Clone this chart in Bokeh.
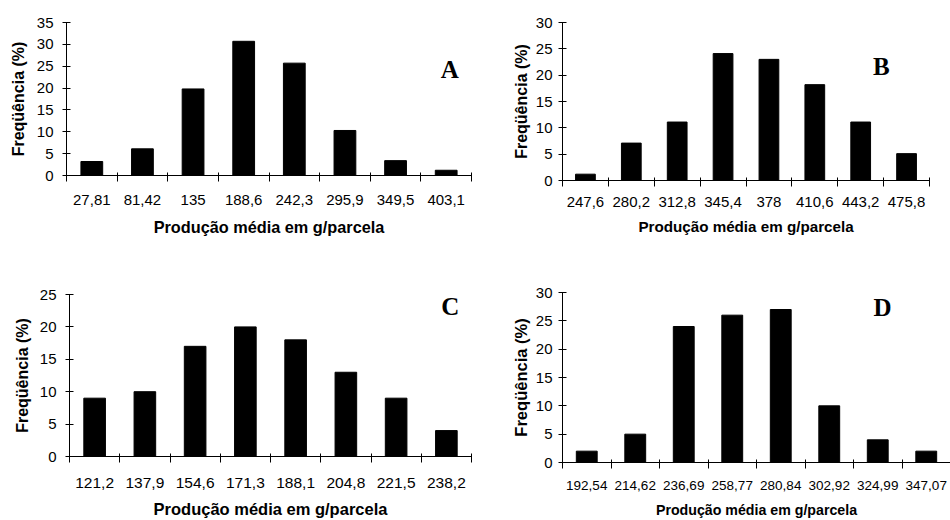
from bokeh.plotting import figure
from bokeh.models import Range1d, FixedTicker, Label
from bokeh.layouts import column, row
from bokeh.embed import file_html
from bokeh.resources import INLINE

# ---- data ----
cats_A = ["27,81", "81,42", "135", "188,6", "242,3", "295,9", "349,5", "403,1"]
freq_A = [3.2, 6.1, 19.8, 30.7, 25.7, 10.3, 3.4, 1.2]

cats_B = ["247,6", "280,2", "312,8", "345,4", "378", "410,6", "443,2", "475,8"]
freq_B = [1.2, 7.1, 11.1, 24.1, 23.0, 18.2, 11.1, 5.1]

cats_C = ["121,2", "137,9", "154,6", "171,3", "188,1", "204,8", "221,5", "238,2"]
freq_C = [9, 10, 17, 20, 18, 13, 9, 4]

cats_D = ["192,54", "214,62", "236,69", "258,77", "280,84", "302,92", "324,99", "347,07"]
freq_D = [2, 5, 24, 26, 27, 10, 4, 2]

x_title = "Produção média em g/parcela"
y_title = "Freqüência (%)"


def panel(cats, freq, ymax, letter, lx, ly, width, height, borders,
          xtick_fs, ytick_fs, xlab_fs, ylab_fs,
          x_std, xl_std, y_std, yl_std):
    left, right, top, bottom = borders
    n = len(cats)
    xs = list(range(1, n + 1))
    bounds = [i + 0.5 for i in range(n + 1)]
    p = figure(width=width, height=height, output_backend="svg",
               toolbar_location=None,
               x_range=Range1d(0.5, n + 0.5), y_range=Range1d(0, ymax),
               min_border_left=left, min_border_right=right,
               min_border_top=top, min_border_bottom=bottom)
    p.outline_line_color = None
    p.xgrid.visible = False
    p.ygrid.visible = False
    p.background_fill_color = "white"
    p.border_fill_color = "white"

    p.vbar(x=xs, top=freq, width=0.43, bottom=0,
           fill_color="black", line_color="black", line_width=1)

    xa = p.xaxis[0]
    xa.axis_line_color = "black"
    xa.ticker = FixedTicker(ticks=xs, minor_ticks=bounds)
    xa.major_label_overrides = {x: c for x, c in zip(xs, cats)}
    xa.major_tick_line_color = None
    xa.major_tick_out = 0
    xa.major_tick_in = 0
    xa.minor_tick_line_color = "black"
    xa.minor_tick_out = 6
    xa.minor_tick_in = 3
    xa.major_label_text_font = "Liberation Sans"
    xa.major_label_text_font_size = xtick_fs
    xa.major_label_text_color = "black"
    xa.major_label_standoff = x_std
    xa.axis_label = x_title
    xa.axis_label_text_font = "Liberation Sans"
    xa.axis_label_text_font_style = "bold"
    xa.axis_label_text_font_size = xlab_fs
    xa.axis_label_text_color = "black"
    xa.axis_label_standoff = xl_std

    ya = p.yaxis[0]
    ya.ticker = FixedTicker(ticks=list(range(0, ymax + 1, 5)))
    ya.minor_tick_line_color = None
    ya.major_tick_line_color = "black"
    ya.major_tick_out = 4
    ya.major_tick_in = 4
    ya.axis_line_color = "black"
    ya.major_label_text_font = "Liberation Sans"
    ya.major_label_text_font_size = ytick_fs
    ya.major_label_text_color = "black"
    ya.major_label_standoff = y_std
    ya.axis_label = y_title
    ya.axis_label_text_font = "Liberation Sans"
    ya.axis_label_text_font_style = "bold"
    ya.axis_label_text_font_size = ylab_fs
    ya.axis_label_text_color = "black"
    ya.axis_label_standoff = yl_std

    p.add_layout(Label(x=lx, y=ly, text=letter, text_font="Liberation Serif",
                       text_font_style="bold", text_font_size="25px",
                       text_align="center", text_baseline="middle",
                       text_color="black"))
    return p


pA = panel(cats_A, freq_A, 35, "A", 8.07, 24.3, 475, 260, (66, 4, 22, 85),
           "15px", "15px", "16.3px", "16px", 13, 10, 9, 7)
pB = panel(cats_B, freq_B, 30, "B", 7.45, 21.7, 475, 260, (87, 21, 22, 80),
           "15px", "15px", "15.2px", "16px", 10, 8, 6, 3)
pC = panel(cats_C, freq_C, 25, "C", 8.08, 23.15, 475, 260, (69, 4, 34, 64),
           "15.5px", "15px", "16.5px", "16px", 15, 9, 9, 6)
pD = panel(cats_D, freq_D, 30, "D", 7.1, 27.4, 475, 260, (87, 0, 32, 58),
           "13.5px", "15px", "14.2px", "16.5px", 12, 9, 6, 3)

layout = column(row(column(pA), column(pB)), row(column(pC), column(pD)))
open("out.html", "w").write(file_html(layout, INLINE))
